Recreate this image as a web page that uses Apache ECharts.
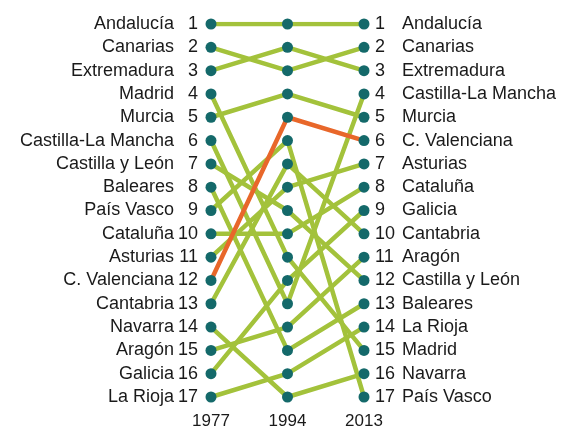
<!DOCTYPE html>
<html>
<head>
<meta charset="utf-8">
<script src="https://cdn.jsdelivr.net/npm/echarts@6/dist/echarts.min.js"></script>
<style>
html, body { margin: 0; padding: 0; background: #fff; }
#chart { width: 569px; height: 430px; }
</style>
</head>
<body>
<div id="chart"></div>
<script>
var years = ['1977', '1994', '2013'];
var regions = ['Andalucía', 'Canarias', 'Extremadura', 'Madrid', 'Murcia', 'Castilla-La Mancha',
	'Castilla y León', 'Baleares', 'País Vasco', 'Cataluña', 'Asturias', 'C. Valenciana',
	'Cantabria', 'Navarra', 'Aragón', 'Galicia', 'La Rioja'];
var rank1977 = [1, 2, 3, 4, 5, 6, 7, 8, 9, 10, 11, 12, 13, 14, 15, 16, 17];
var rank1994 = [1, 3, 2, 11, 4, 13, 9, 15, 6, 10, 8, 5, 7, 17, 14, 12, 16];
var rank2013 = [1, 2, 3, 15, 5, 4, 12, 13, 17, 8, 7, 6, 10, 16, 11, 9, 14];
var highlight = 'C. Valenciana';

var font = '"Liberation Sans", Arial, sans-serif';

// nombre por puesto en cada año
function nameAt(ranks, r) {
	for (var i = 0; i < ranks.length; i++) {
		if (ranks[i] === r) return regions[i];
	}
	return '';
}

var chart = echarts.init(document.getElementById('chart'));

var series = [];
var dots = [];
for (var i = 0; i < regions.length; i++) {
	var hl = regions[i] === highlight;
	series.push({
		name: regions[i],
		type: 'line',
		data: [rank1977[i], rank1994[i], rank2013[i]],
		showSymbol: false,
		silent: true,
		z: hl ? 3 : 2,
		lineStyle: { color: hl ? '#e8672a' : '#a3c23b', width: 4.5 }
	});
	dots.push([0, rank1977[i]], [1, rank1994[i]], [2, rank2013[i]]);
}
series.push({
	type: 'scatter',
	data: dots,
	symbolSize: 11,
	z: 5,
	silent: true,
	itemStyle: { color: '#14696a', opacity: 1 }
});

var txt = { color: '#1a1a1a', fontSize: 18, fontFamily: font };

var option = {
	animation: false,
	grid: { left: 211, right: 205, top: 24, bottom: 33 },
	xAxis: {
		type: 'category',
		data: years,
		boundaryGap: false,
		axisLine: { show: false },
		axisTick: { show: false },
		splitLine: { show: false },
		axisLabel: { margin: 16, color: '#1a1a1a', fontSize: 17, fontFamily: font }
	},
	yAxis: [
		{
			type: 'value', inverse: true, min: 1, max: 17, interval: 1,
			position: 'left',
			axisLine: { show: false }, axisTick: { show: false }, splitLine: { show: false },
			axisLabel: {
				margin: 13,
				formatter: function (v) { return '{a|' + nameAt(rank1977, v) + '}{b|' + v + '}'; },
				rich: {
					a: txt,
					b: { color: '#1a1a1a', fontSize: 18, fontFamily: font, width: 24, align: 'right' }
				}
			}
		},
		{
			type: 'value', inverse: true, min: 1, max: 17, interval: 1,
			position: 'right',
			axisLine: { show: false }, axisTick: { show: false }, splitLine: { show: false },
			axisLabel: {
				margin: 11,
				formatter: function (v) { return '{b|' + v + '}{a|' + nameAt(rank2013, v) + '}'; },
				rich: {
					a: txt,
					b: { color: '#1a1a1a', fontSize: 18, fontFamily: font, width: 27, align: 'left' }
				}
			}
		}
	],
	series: series
};

chart.setOption(option);
</script>
</body>
</html>
